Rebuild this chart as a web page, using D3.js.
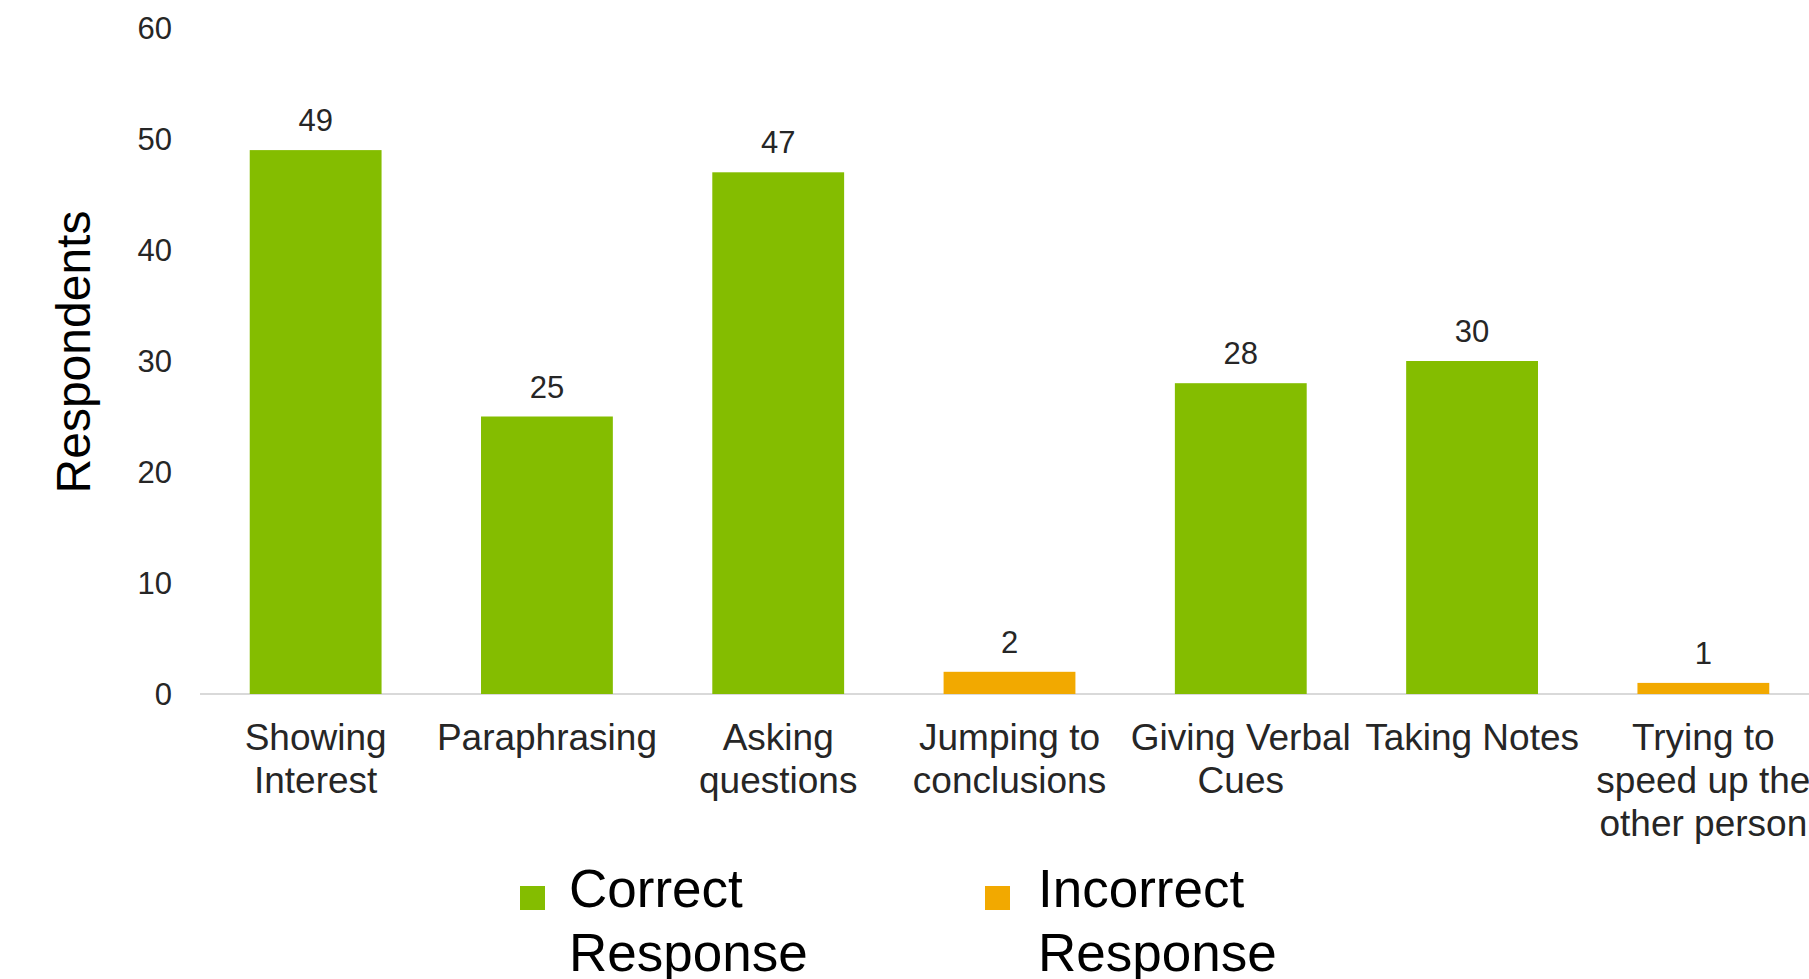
<!DOCTYPE html>
<html>
<head>
<meta charset="utf-8">
<script src="https://cdn.jsdelivr.net/npm/d3@7/dist/d3.min.js"></script>
<style>
  html, body { margin: 0; padding: 0; background: #ffffff; }
  svg { display: block; font-family: "Liberation Sans", Arial, sans-serif; }
</style>
</head>
<body>
<svg id="chart" width="1809" height="979"></svg>
<script>
// Survey results: which listening behaviours respondents picked
const categories = [
  "Showing\nInterest",
  "Paraphrasing",
  "Asking\nquestions",
  "Jumping to\nconclusions",
  "Giving Verbal\nCues",
  "Taking Notes",
  "Trying to\nspeed up the\nother person"
];
const respondents = [49, 25, 47, 2, 28, 30, 1];
const responseType = ["Correct", "Correct", "Correct", "Incorrect", "Correct", "Correct", "Incorrect"];
const seriesNames = ["Correct", "Incorrect"];
const legendLabels = ["Correct\nResponse", "Incorrect\nResponse"];
const yTicks = [0, 10, 20, 30, 40, 50, 60];
const yTitle = "Respondents";

const colors = { Correct: "#84bd00", Incorrect: "#f2a900" };
const textColor = "#262626";

const svg = d3.select("#chart");

const x = d3.scaleBand()
  .domain(categories)
  .range([200, 1819])
  .paddingInner(0.43)
  .paddingOuter(0.215);

const y = d3.scaleLinear().domain([0, 60]).range([694, 28]);

// Baseline
svg.append("line")
  .attr("x1", 200).attr("x2", 1809)
  .attr("y1", y(0)).attr("y2", y(0))
  .attr("stroke", "#d9d9d9").attr("stroke-width", 2);

// Y axis (labels only)
const yAxis = d3.axisLeft(y).tickValues(yTicks).tickSize(0).tickPadding(0);
const gy = svg.append("g").attr("transform", "translate(172,0)").call(yAxis);
gy.select(".domain").remove();
gy.selectAll("text")
  .attr("font-size", 31)
  .attr("fill", textColor)
  .attr("font-family", "Liberation Sans, Arial, sans-serif")
  .attr("dy", "0.34em");

// Y axis title
svg.append("text")
  .attr("transform", "translate(90,352) rotate(-90)")
  .attr("text-anchor", "middle")
  .attr("font-size", 48)
  .attr("fill", "#000000")
  .text(yTitle);

// Bars
svg.append("g").selectAll("rect")
  .data(categories)
  .join("rect")
  .attr("x", d => x(d))
  .attr("width", x.bandwidth())
  .attr("y", (d, i) => y(respondents[i]))
  .attr("height", (d, i) => y(0) - y(respondents[i]))
  .attr("fill", (d, i) => colors[responseType[i]]);

// Value labels
svg.append("g").selectAll("text")
  .data(categories)
  .join("text")
  .attr("x", d => x(d) + x.bandwidth() / 2)
  .attr("y", (d, i) => y(respondents[i]) - 19)
  .attr("text-anchor", "middle")
  .attr("font-size", 31)
  .attr("fill", textColor)
  .text((d, i) => respondents[i]);

// Category labels
const cat = svg.append("g").selectAll("text")
  .data(categories)
  .join("text")
  .attr("text-anchor", "middle")
  .attr("font-size", 37)
  .attr("fill", textColor);
cat.each(function (d) {
  const t = d3.select(this);
  d.split("\n").forEach((line, k) => {
    t.append("tspan")
      .attr("x", x(d) + x.bandwidth() / 2)
      .attr("y", 750 + k * 43)
      .text(line);
  });
});

// Legend
const legendX = [520, 985];
const legend = svg.append("g").selectAll("g")
  .data(seriesNames)
  .join("g");
legend.append("rect")
  .attr("x", (d, i) => legendX[i])
  .attr("y", 886)
  .attr("width", 25)
  .attr("height", 24)
  .attr("fill", d => colors[d]);
legend.append("text")
  .attr("font-size", 53)
  .attr("fill", "#000000")
  .each(function (d, i) {
    const t = d3.select(this);
    legendLabels[i].split("\n").forEach((line, k) => {
      t.append("tspan")
        .attr("x", legendX[i] + (i === 0 ? 49 : 53))
        .attr("y", 907 + k * 64)
        .text(line);
    });
  });
</script>
</body>
</html>
